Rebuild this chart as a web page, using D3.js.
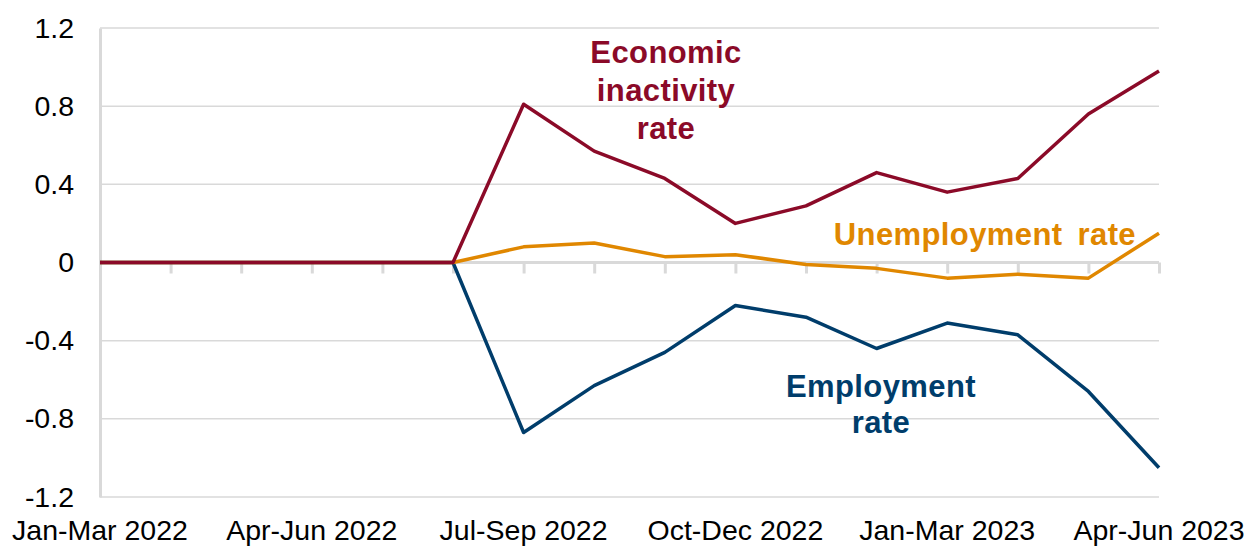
<!DOCTYPE html>
<html><head><meta charset="utf-8">
<script src="https://cdn.jsdelivr.net/npm/d3@7"></script>
<style>
html,body{margin:0;padding:0;background:#fff;}
svg{display:block;font-family:"Liberation Sans",Arial,sans-serif;}
</style></head>
<body>
<svg id="chart" width="1250" height="547"></svg>
<script>
const categories = ["Jan-Mar 2022","Feb-Apr 2022","Mar-May 2022","Apr-Jun 2022","May-Jul 2022","Jun-Aug 2022","Jul-Sep 2022","Aug-Oct 2022","Sep-Nov 2022","Oct-Dec 2022","Nov-Jan 2023","Dec-Feb 2023","Jan-Mar 2023","Feb-Apr 2023","Mar-May 2023","Apr-Jun 2023"];
const tickLabels = ["Jan-Mar 2022","Apr-Jun 2022","Jul-Sep 2022","Oct-Dec 2022","Jan-Mar 2023","Apr-Jun 2023"];
const yTicks = [-1.2,-0.8,-0.4,0,0.4,0.8,1.2];
const inactivity = [0,0,0,0,0,0,0.81,0.57,0.43,0.20,0.29,0.46,0.36,0.43,0.76,0.98];
const unemployment = [0,0,0,0,0,0,0.08,0.10,0.03,0.04,-0.01,-0.03,-0.08,-0.06,-0.08,0.15];
const employment = [0,0,0,0,0,0,-0.87,-0.63,-0.46,-0.22,-0.28,-0.44,-0.31,-0.37,-0.66,-1.05];

const svg = d3.select("#chart");
const x = d3.scalePoint().domain(categories).range([100,1159]);
const y = d3.scaleLinear().domain([-1.2,1.2]).range([497,28]);
const grid = "#d9d9d9";

// gridlines
svg.append("g").selectAll("line").data(yTicks.filter(d=>d!==0)).join("line")
  .attr("x1",100).attr("x2",1159).attr("y1",d=>y(d)).attr("y2",d=>y(d))
  .attr("stroke",grid).attr("stroke-width",1.5);

// y axis
const fmt = d => d===0 ? "0" : d3.format(".1f")(d).replace("\u2212","-");
const yAxis = svg.append("g").attr("transform","translate(100,0)")
  .call(d3.axisLeft(y).tickValues(yTicks).tickSize(0).tickPadding(26).tickFormat(fmt));
yAxis.select(".domain").attr("stroke",grid).attr("stroke-width",3);
yAxis.selectAll("text").attr("font-size",28.5).attr("fill","#000").attr("font-family","'Liberation Sans',Arial,sans-serif");

// x axis along zero
const xAxis = svg.append("g").attr("transform",`translate(0,${y(0)})`)
  .call(d3.axisBottom(x).tickSize(11).tickFormat(""));
xAxis.select(".domain").attr("stroke",grid).attr("stroke-width",3).attr("d",`M100,0H1159`);
xAxis.selectAll(".tick line").attr("stroke",grid).attr("stroke-width",3);

// bottom labels
svg.append("g").selectAll("text").data(tickLabels).join("text")
  .attr("x",d=>x(d)).attr("y",540).attr("text-anchor","middle")
  .attr("font-size",28.5).attr("fill","#000").text(d=>d);

const line = d3.line().x((d,i)=>x(categories[i])).y(d=>y(d));
const series = [
  {vals:employment,color:"#003d6b"},
  {vals:unemployment,color:"#e08700"},
  {vals:inactivity,color:"#8b0a28"}
];
svg.append("g").selectAll("path").data(series).join("path")
  .attr("d",d=>line(d.vals)).attr("fill","none").attr("stroke",d=>d.color)
  .attr("stroke-width",3.5).attr("stroke-linejoin","round");

// annotations
const ann = svg.append("g").attr("font-weight","bold").attr("font-size",31).attr("letter-spacing",0.4);
function multi(lines, ax, ys, color){
  const t = ann.append("text").attr("text-anchor","middle").attr("fill",color);
  lines.forEach((s,i)=>t.append("tspan").attr("x",ax).attr("y",ys[i]).text(s));
}
multi(["Economic","inactivity","rate"],666,[63,101,139],"#8b0a28");
ann.append("text").attr("x",1136).attr("y",245).attr("text-anchor","end").attr("fill","#e08700").attr("word-spacing",6).text("Unemployment rate");
multi(["Employment","rate"],881,[397,433],"#003d6b");
</script>
</body></html>
